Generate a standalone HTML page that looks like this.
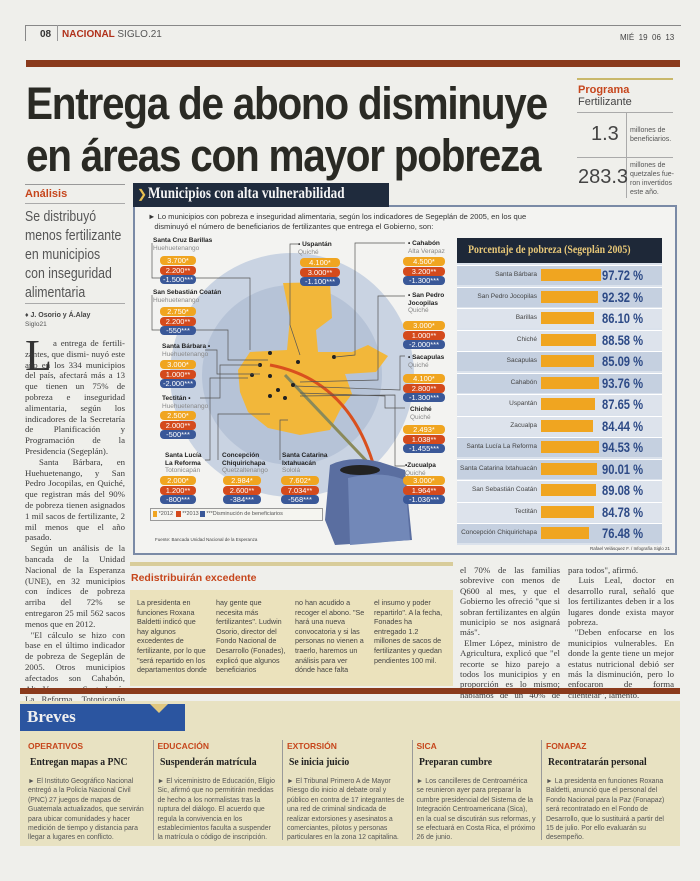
<!DOCTYPE html>
<html><head><meta charset="utf-8">
<style>
*{margin:0;padding:0;box-sizing:border-box}
body{width:700px;height:881px;background:#efefeb;font-family:"Liberation Sans",sans-serif;position:relative;overflow:hidden;color:#333}
.a{position:absolute;white-space:nowrap}
.serif{font-family:"Liberation Serif",serif}
.body{font-family:"Liberation Serif",serif;font-size:8.8px;line-height:10.8px;color:#3a3a3a;white-space:normal;text-align:justify}
.nar{font-family:"Liberation Sans",sans-serif;font-size:7.2px;line-height:9.6px;color:#444;white-space:normal}
.hd{font-weight:bold;transform-origin:0 0}
</style></head><body>
<!-- top header -->
<div class="a" style="left:25px;top:25px;width:656px;border-top:1px solid #888"></div>
<div class="a" style="left:25px;top:25px;height:16px;border-left:1px solid #888"></div>
<div class="a" style="left:40px;top:29px;font-size:10px;font-weight:bold;color:#333">08</div>
<div class="a" style="left:57px;top:25px;height:16px;border-left:1px solid #999"></div>
<div class="a" style="left:62px;top:29px;font-size:10px;font-weight:bold;color:#b0301a">NACIONAL <span style="color:#555;font-weight:normal">SIGLO.21</span></div>
<div class="a" style="left:620px;top:33px;font-size:8px;color:#444">MIÉ &nbsp;19 &nbsp;06 &nbsp;13</div>
<div class="a" style="left:26px;top:60px;width:654px;height:7px;background:#8a3a1c"></div>
<!-- headline -->
<div class="a hd" style="left:26px;top:79px;font-size:45px;line-height:50px;letter-spacing:-1.4px;color:#2a2a24;transform:scaleX(0.9)">Entrega de abono disminuye</div>
<div class="a hd" style="left:26px;top:131px;font-size:45px;line-height:50px;letter-spacing:-1.4px;color:#2a2a24;transform:scaleX(0.9)">en áreas con mayor pobreza</div>
<!-- right program box -->
<div class="a" style="left:577px;top:78px;width:96px;border-top:2px solid #c9b86a"></div>
<div class="a" style="left:578px;top:84px;font-size:11px;font-weight:bold;color:#c6461c">Programa</div>
<div class="a" style="left:578px;top:96px;font-size:11px;color:#444">Fertilizante</div>
<div class="a" style="left:577px;top:112px;width:96px;border-top:1px solid #aaa"></div>
<div class="a" style="left:577px;top:157px;width:96px;border-top:1px solid #aaa"></div>
<div class="a" style="left:626px;top:113px;height:85px;border-left:1px solid #aaa"></div>
<div class="a" style="left:591px;top:123px;font-size:20px;color:#444">1.3</div>
<div class="a" style="left:630px;top:126px;font-size:7px;line-height:9px;color:#555">millones de<br>beneficiarios.</div>
<div class="a" style="left:578px;top:166px;font-size:20px;color:#444">283.3</div>
<div class="a" style="left:630px;top:161px;font-size:7px;line-height:9px;color:#555">millones de<br>quetzales fue-<br>ron invertidos<br>este año.</div>
<!-- Análisis -->
<div class="a" style="left:25px;top:184px;width:100px;border-top:1px solid #999"></div>
<div class="a" style="left:25px;top:188px;font-size:11px;font-weight:bold;color:#c6461c">Análisis</div>
<div class="a" style="left:25px;top:203px;width:100px;border-top:1px solid #aaa"></div>
<div class="a" style="left:25px;top:207px;font-size:15px;line-height:19px;color:#555;transform:scaleX(.82);transform-origin:0 0">Se distribuyó<br>menos fertilizante<br>en municipios<br>con inseguridad<br>alimentaria</div>
<div class="a" style="left:25px;top:303px;width:100px;border-top:1px solid #aaa"></div>
<div class="a" style="left:25px;top:312px;font-size:7px;font-weight:bold;color:#444">♦ J. Osorio y Á.Alay</div>
<div class="a" style="left:25px;top:321px;font-size:6.5px;color:#555">Siglo21</div>
<div class="a serif" style="left:25px;top:330px;font-size:44px;color:#333">L</div>
<div class="a body" style="left:25px;top:338px;width:100px;text-indent:28px">a entrega de fertili- zantes, que dismi- nuyó este año en los 334 municipios del país, afectará más a 13 que tienen un 75% de pobreza e inseguridad alimentaria, según los indicadores de la Secretaría de Planificación y Programación de la Presidencia (Segeplán).<br>&nbsp;Santa Bárbara, en Huehuetenango, y San Pedro Jocopilas, en Quiché, que registran más del 90% de pobreza tienen asignados 1 mil sacos de fertilizante, 2 mil menos que el año pasado.<br>&nbsp;Según un análisis de la bancada de la Unidad Nacional de la Esperanza (UNE), en 32 municipios con índices de pobreza arriba del 72% se entregaron 25 mil 562 sacos menos que en 2012.<br>&nbsp;"El cálculo se hizo con base en el último indicador de pobreza de Segeplán de 2005. Otros municipios afectados son Cahabón, Alta Verapaz, y Santa Lucía La Reforma, Totonicapán (lea: Municipios con alta vulnerabilidad).<br>&nbsp;Víctor Hugo Figueroa, alcalde de San Miguel Uspantán, señaló que en su municipio</div>
<!-- infographic -->
<div class="a" style="left:133px;top:205px;width:544px;height:350px;border:2px solid #7a8aa6;background:#f3f3f1"></div>
<div class="a" style="left:133px;top:183px;width:256px;height:24px;background:#1f2b3d"></div>
<div class="a" style="left:137px;top:187px;font-size:12px;color:#e8c050">❯</div>
<div class="a serif" style="left:148px;top:185px;font-size:15.5px;font-weight:bold;color:#f4f4f4;transform:scaleX(.85);transform-origin:0 0">Municipios con alta vulnerabilidad</div>
<div class="a" style="left:148px;top:212px;font-size:7.6px;line-height:10px;color:#333">► Lo municipios con pobreza e inseguridad alimentaria, según los indicadores de Segeplán de 2005, en los que<br>&nbsp;&nbsp;&nbsp;disminuyó el número de beneficiarios de fertilizantes que entrega el Gobierno, son:</div>
<svg class="a" style="left:0;top:0" width="700" height="881">
<circle cx="292" cy="375" r="122" fill="#c9d3e2"/>
<circle cx="292" cy="375" r="90" fill="#b6c3d7"/>
<polygon points="283,283 330,282 332,318 316,330 318,352 352,352 368,345 388,356 376,372 345,374 352,394 340,410 330,430 300,435 268,428 248,412 240,392 238,370 250,352 287,350 290,318" fill="#f2b73a"/>
<path d="M375 470 Q350 380 270 365" stroke="#d9501e" stroke-width="3" fill="none"/>
<path d="M375 470 L285 375" stroke="#8a8a5a" stroke-width="3"/>
<g fill="#222"><circle cx="270" cy="353" r="2"/><circle cx="260" cy="365" r="2"/><circle cx="298" cy="362" r="2"/><circle cx="334" cy="357" r="2"/><circle cx="252" cy="375" r="2"/><circle cx="270" cy="376" r="2"/><circle cx="278" cy="390" r="2"/><circle cx="293" cy="385" r="2"/><circle cx="270" cy="396" r="2"/><circle cx="285" cy="398" r="2"/></g>
<path d="M330 465 Q350 455 380 462 L405 470 L412 540 L335 545 L325 520 Z" fill="#5a6ea0"/>
<path d="M348 478 Q380 470 405 480 L410 540 L350 545 Z" fill="#7288b8"/>
<ellipse cx="360" cy="470" rx="20" ry="5" fill="#222"/>
<g stroke="#555" stroke-width=".7" fill="none">
<polyline points="152,243 152,278 250,278 250,350"/><polyline points="152,295 152,330 228,330 228,360 268,360"/>
<polyline points="205,350 217,350 217,374 260,374"/><polyline points="200,398 220,398 220,365 260,365"/>
<polyline points="205,460 210,460 210,378 248,378"/><polyline points="218,460 218,414 270,414"/>
<polyline points="280,460 280,420 288,420"/><polyline points="298,244 290,244 290,325 300,355"/>
<polyline points="405,243 355,243 355,355 335,357"/><polyline points="405,296 378,296 378,380 300,382"/>
<polyline points="405,356 400,356 400,390 295,386"/><polyline points="405,408 385,408 385,396 300,393"/>
<polyline points="405,466 395,466 395,395 300,396"/>
</g>
</svg>
<div id="pills"></div>
<!-- right table -->
<div class="a" style="left:457px;top:238px;width:205px;height:25px;background:#1e2838"></div>
<div class="a serif" style="left:468px;top:242px;font-size:12px;font-weight:bold;color:#e8c878;transform:scaleX(.82);transform-origin:0 0">Porcentaje de pobreza (Segeplán 2005)</div>
<div class="a" style="left:457px;top:263px;width:205px;height:282px;background:#dbe2ec"></div>
<div id="tbl"></div>
<div class="a" style="left:155px;top:537px;font-size:4.5px;color:#444">Fuente: Bancada Unidad Nacional de la Esperanza</div>
<div class="a" style="left:590px;top:546px;font-size:4.5px;color:#444">Rafael Velásquez F. / Infografía Siglo 21</div>
<!-- Redistribuirán -->
<div class="a" style="left:130px;top:562px;width:323px;height:4px;background:#d8cc9a"></div>
<div class="a" style="left:131px;top:572px;font-size:10.5px;font-weight:bold;color:#c6461c">Redistribuirán excedente</div>
<div class="a" style="left:130px;top:590px;width:323px;height:96px;background:#ebe2bc"></div>
<div class="a nar" style="left:137px;top:598px;width:72px">La presidenta en funciones Roxana Baldetti indicó que hay algunos excedentes de fertilizante, por lo que "será repartido en los departamentos donde</div>
<div class="a nar" style="left:216px;top:598px;width:72px">hay gente que necesita más fertilizantes". Ludwin Osorio, director del Fondo Nacional de Desarrollo (Fonades), explicó que algunos beneficiarios</div>
<div class="a nar" style="left:295px;top:598px;width:72px">no han acudido a recoger el abono. "Se hará una nueva convocatoria y si las personas no vienen a traerlo, haremos un análisis para ver dónde hace falta</div>
<div class="a nar" style="left:374px;top:598px;width:72px">el insumo y poder repartirlo". A la fecha, Fonades ha entregado 1.2 millones de sacos de fertilizantes y quedan pendientes 100 mil.</div>
<div class="a body" style="left:460px;top:565px;width:100px;line-height:10.4px">el 70% de las familias sobrevive con menos de Q600 al mes, y que el Gobierno les ofreció "que si sobran fertilizantes en algún municipio se nos asignará más".<br>&nbsp;Elmer López, ministro de Agricultura, explicó que "el recorte se hizo parejo a todos los municipios y en proporción es lo mismo; hablamos de un 40% de reducción</div>
<div class="a body" style="left:568px;top:565px;width:106px;line-height:10.4px">para todos", afirmó.<br>&nbsp;Luis Leal, doctor en desarrollo rural, señaló que los fertilizantes deben ir a los lugares donde exista mayor pobreza.<br>&nbsp;"Deben enfocarse en los municipios vulnerables. En donde la gente tiene un mejor estatus nutricional debió ser más la disminución, pero lo enfocaron de forma clientelar", lamentó.</div>
<!-- bottom -->
<div class="a" style="left:20px;top:688px;width:660px;height:6px;background:#8a3a1c"></div>
<div class="a" style="left:20px;top:701px;width:660px;height:145px;background:#e8e2c2"></div>
<div class="a" style="left:20px;top:704px;width:165px;height:27px;background:#2b55a0"></div>
<div class="a serif" style="left:27px;top:707px;font-size:17px;font-weight:bold;color:#f0f0f0">Breves</div>
<div class="a" style="left:150px;top:704px;width:0;height:0;border-left:9px solid transparent;border-right:9px solid transparent;border-top:9px solid #e0c880"></div>
<div id="brev"></div>
<script>
var h='';
function P(x,y,w,v){var c=['#f0a520','#d44a1c','#3a5898'];for(var i=0;i<3;i++)h+='<div class="a" style="left:'+x+'px;top:'+(y+i*9.5)+'px;width:'+w+'px;height:9px;border-radius:4px;background:'+c[i]+';color:#fff;font-size:7.5px;line-height:9px;text-align:center">'+v[i]+'</div>';}
function L(x,y,t,s,al){h+='<div class="a" style="left:'+x+'px;top:'+y+'px;font-size:6.5px;line-height:7.5px;font-weight:bold;color:#222;text-align:'+(al||'left')+'">'+t+'<br><span style="font-weight:normal;color:#888">'+s+'</span></div>';}
L(153,237,'Santa Cruz Barillas','Huehuetenango');P(160,256,36,['3.700*','2.200**','-1.500***']);
L(153,289,'San Sebastián Coatán','Huehuetenango');P(160,307,36,['2.750*','2.200**','-550***']);
L(162,343,'Santa Bárbara •','Huehuetenango');P(160,360,36,['3.000*','1.000**','-2.000***']);
L(162,395,'Tectitán •','Huehuetenango');P(160,411,36,['2.500*','2.000**','-500***']);
L(165,452,'Santa Lucía<br>La Reforma','Totonicapán');P(160,476,36,['2.000*','1.200**','-800***']);
L(222,452,'Concepción<br>Chiquirichapa','Quetzaltenango');P(223,476,38,['2.984*','2.600**','-384***']);
L(282,452,'Santa Catarina<br>Ixtahuacán','Sololá');P(281,476,38,['7.602*','7.034**','-568***']);
L(298,241,'• Uspantán','Quiché');P(300,258,40,['4.100*','3.000**','-1.100***']);
L(408,240,'• Cahabón','Alta Verapaz');P(403,257,42,['4.500*','3.200**','-1.300***']);
L(408,292,'• San Pedro<br>Jocopilas','Quiché');P(403,321,42,['3.000*','1.000**','-2.000***']);
L(408,354,'• Sacapulas','Quiché');P(403,374,42,['4.100*','2.800**','-1.300***']);
L(410,406,'Chiché','Quiché');P(403,425,42,['2.493*','1.038**','-1.455***']);
L(405,462,'•Zucualpa','Quiché');P(403,476,42,['3.000*','1.964**','-1.036***']);
h+='<div class="a" style="left:150px;top:508px;width:173px;height:13px;border:1px solid #999;background:#f5f5f0;font-size:5.5px;line-height:11px;color:#555">&nbsp;<span style="background:#f0a520">&nbsp;&nbsp;&nbsp;</span> *2012 &nbsp;<span style="background:#d44a1c">&nbsp;&nbsp;&nbsp;</span> **2013 <span style="background:#3a5898">&nbsp;&nbsp;&nbsp;</span> ***Disminución de beneficiarios</div>';
document.getElementById('pills').innerHTML=h;
var r=[['Santa Bárbara','97.72',60],['San Pedro Jocopilas','92.32',57],['Barillas','86.10',53],['Chiché','88.58',55],['Sacapulas','85.09',53],['Cahabón','93.76',58],['Uspantán','87.65',54],['Zacualpa','84.44',52],['Santa Lucía La Reforma','94.53',58],['Santa Catarina Ixtahuacán','90.01',56],['San Sebastián Coatán','89.08',55],['Tectitán','84.78',53],['Concepción Chiquirichapa','76.48',48]];
h='';for(var i=0;i<r.length;i++){var y=265+i*21.5;var bg=(Math.floor(i/2)%2==0)?'#c5d0e0':'#dde3ec';if(i==12)bg='#c5d0e0';
h+='<div class="a" style="left:457px;top:'+y+'px;width:205px;height:20px;background:'+bg+';border-top:1px solid #fff"></div>';
h+='<div class="a" style="left:457px;top:'+(y+6)+'px;width:80px;text-align:right;font-size:6.5px;color:#444">'+r[i][0]+'</div>';
h+='<div class="a" style="left:541px;top:'+(y+4)+'px;width:'+r[i][2]+'px;height:12px;background:#f0a520"></div>';
h+='<div class="a" style="left:602px;top:'+(y+2)+'px;font-size:14px;font-weight:bold;color:#2d4a86;transform:scaleX(.8);transform-origin:0 0">'+r[i][1]+' %</div>';}
document.getElementById('tbl').innerHTML=h;
var b=[['OPERATIVOS','Entregan mapas a PNC','► El Instituto Geográfico Nacional entregó a la Policía Nacional Civil (PNC) 27 juegos de mapas de Guatemala actualizados, que servirán para ubicar comunidades y hacer medición de tiempo y distancia para llegar a lugares en conflicto.'],['EDUCACIÓN','Suspenderán matrícula','► El viceministro de Educación, Eligio Sic, afirmó que no permitirán medidas de hecho a los normalistas tras la ruptura del diálogo. El acuerdo que regula la convivencia en los establecimientos faculta a suspender la matrícula o código de inscripción.'],['EXTORSIÓN','Se inicia juicio','► El Tribunal Primero A de Mayor Riesgo dio inicio al debate oral y público en contra de 17 integrantes de una red de criminal sindicada de realizar extorsiones y asesinatos a comerciantes, pilotos y personas particulares en la zona 12 capitalina.'],['SICA','Preparan cumbre','► Los cancilleres de Centroamérica se reunieron ayer para preparar la cumbre presidencial del Sistema de la Integración Centroamericana (Sica), en la cual se discutirán sus reformas, y se efectuará en Costa Rica, el próximo 26 de junio.'],['FONAPAZ','Recontratarán personal','► La presidenta en funciones Roxana Baldetti, anunció que el personal del Fondo Nacional para la Paz (Fonapaz) será recontratado en el Fondo de Desarrollo, que lo sustituirá a partir del 15 de julio. Por ello evaluarán su desempeño.']];
h='';for(var i=0;i<5;i++){var x=28+i*129.5;if(i>0)h+='<div class="a" style="left:'+(x-5)+'px;top:740px;height:100px;border-left:1px solid #999"></div>';
h+='<div class="a" style="left:'+x+'px;top:741px;font-size:8.5px;font-weight:bold;color:#c6461c">'+b[i][0]+'</div>';
h+='<div class="a serif" style="left:'+(x+2)+'px;top:756px;font-size:11px;font-weight:bold;color:#222;transform:scaleX(.88);transform-origin:0 0">'+b[i][1]+'</div>';
h+='<div class="a nar" style="left:'+x+'px;top:777px;width:120px;font-size:6.9px;line-height:9.4px;color:#555">'+b[i][2]+'</div>';}
document.getElementById('brev').innerHTML=h;
</script>
</body></html>
